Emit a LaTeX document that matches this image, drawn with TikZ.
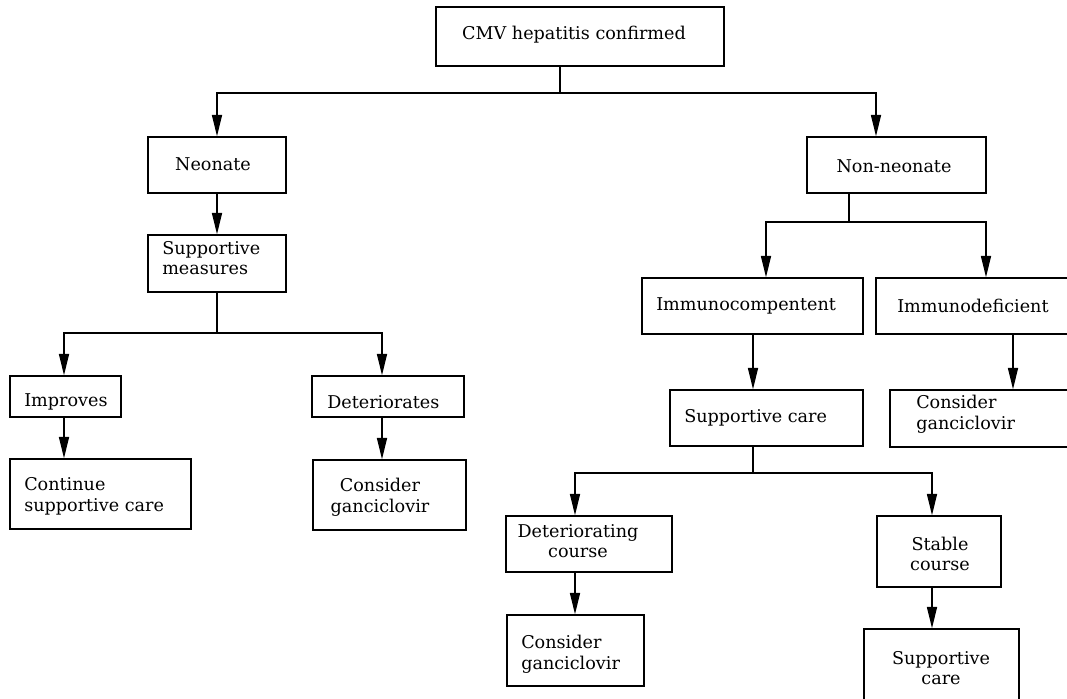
\documentclass[tikz,border=0pt]{standalone}
\usepackage{fontspec}
\setmainfont{DejaVu Serif}
\usetikzlibrary{arrows.meta}

% a framed box given by its corners (x1,y1) and (x2,y2)
\newcommand\flowbox[5]{%
  \node[box, minimum width={((#4)-(#2))*0.75pt}, minimum height={((#5)-(#3))*0.75pt}]
    (#1) at ({((#2)+(#4))/2},{((#3)+(#5))/2}) {};}

\begin{document}
\begin{tikzpicture}[x=0.75pt, y=-0.75pt,
  box/.style={draw, line width=1.05pt, inner sep=0pt},
  lbl/.style={inner sep=0pt, font=\fontsize{13.2pt}{15.5pt}\selectfont},
  link/.style={line width=1.05pt},
  arr/.style={link, -{Triangle[length=16pt, width=7.5pt]}}]

\useasboundingbox (0,0) rectangle (1067,699);
\fill[white] (0,0) rectangle (1067,699);
\clip (0,0) rectangle (1067,699);

% boxes
\flowbox{top}{436}{7}{724}{66}
\flowbox{neo}{148}{137}{286}{193}
\flowbox{nonneo}{807}{137}{986}{193}
\flowbox{supm}{148}{235}{286}{292}
\flowbox{impr}{10}{376}{121}{417}
\flowbox{detr}{312}{376}{464}{417}
\flowbox{cont}{10}{459}{191}{529}
\flowbox{cg1}{313}{460}{466}{530}
\flowbox{immc}{642}{278}{863}{334}
\flowbox{immd}{876}{278}{1076}{334}
\flowbox{supc}{670}{390}{863}{446}
\flowbox{cg2}{890}{390}{1076}{447}
\flowbox{detc}{506}{516}{672}{572}
\flowbox{cg3}{507}{615}{644}{686}
\flowbox{stab}{877}{516}{1001}{587}
\flowbox{supc2}{864}{629}{1019}{712}

% labels
\node[lbl] (top-t) at (574,35) {CMV hepatitis confirmed};
\node[lbl] (neo-t) at (213,164) {Neonate};
\node[lbl] (nonneo-t) at (894,166) {Non-neonate};
\node[lbl, anchor=west, align=left] (supm-t) at (162,258) {Supportive\\measures};
\node[lbl, anchor=west] (impr-t) at (24,402) {Improves};
\node[lbl, anchor=west] (detr-t) at (327,402) {Deteriorates};
\node[lbl, anchor=west, align=left] (cont-t) at (24,496) {Continue\\supportive care};
\node[lbl, align=center] (cg1-t) at (380,497) {Consider\\ganciclovir};
\node[lbl, anchor=west] (immc-t) at (656,306) {Immunocompentent};
\node[lbl, anchor=west] (immd-t) at (897,306) {Immunodeficient};
\node[lbl, anchor=west] (supc-t) at (684,418) {Supportive care};
\node[lbl, anchor=west, align=left] (cg2-t) at (916,414) {Consider\\ganciclovir};
\node[lbl, align=center] (detc-t) at (578,541) {Deteriorating\\course};
\node[lbl, anchor=west, align=left] (cg3-t) at (521,654) {Consider\\ganciclovir};
\node[lbl, align=center] (stab-t) at (940,554) {Stable\\course};
\node[lbl, align=center] (supc2-t) at (941,668) {Supportive\\care};

% junctions and branch columns
\coordinate (j1) at (560,93);
\coordinate (a-non) at (876,93);
\coordinate (j2) at (217,333);
\coordinate (a-impr) at (64,333);
\coordinate (a-detr) at (382,333);
\coordinate (j3) at (849,222);
\coordinate (a-immc) at (766,222);
\coordinate (a-immd) at (986,222);
\coordinate (j4) at (753,473);
\coordinate (v-immd) at (1013,360);
\coordinate (a-detc) at (575,473);
\coordinate (a-stab) at (932,473);

% connectors
\draw[arr] (top.south -| j1) -- (j1) -| (neo.north);
\draw[arr] (j1) -- (a-non) -- (a-non |- nonneo.north);
\draw[arr] (neo.south) -- (supm.north);

\draw[link] (supm.south) -- (j2);
\draw[arr] (j2) -- (a-impr) -- (a-impr |- impr.north);
\draw[arr] (j2) -- (a-detr) -- (a-detr |- detr.north);
\draw[arr] (a-impr |- impr.south) -- (a-impr |- cont.north);
\draw[arr] (a-detr |- detr.south) -- (a-detr |- cg1.north);

\draw[link] (nonneo.south -| j3) -- (j3);
\draw[arr] (j3) -- (a-immc) -- (a-immc |- immc.north);
\draw[arr] (j3) -- (a-immd) -- (a-immd |- immd.north);
\draw[arr] (immc.south -| j4) -- (supc.north -| j4);
\draw[arr] (immd.south -| v-immd) -- (cg2.north -| v-immd);

\draw[link] (supc.south -| j4) -- (j4);
\draw[arr] (j4) -- (a-detc) -- (a-detc |- detc.north);
\draw[arr] (j4) -- (a-stab) -- (a-stab |- stab.north);
\draw[arr] (a-detc |- detc.south) -- (a-detc |- cg3.north);
\draw[arr] (a-stab |- stab.south) -- (a-stab |- supc2.north);
\end{tikzpicture}
\end{document}
